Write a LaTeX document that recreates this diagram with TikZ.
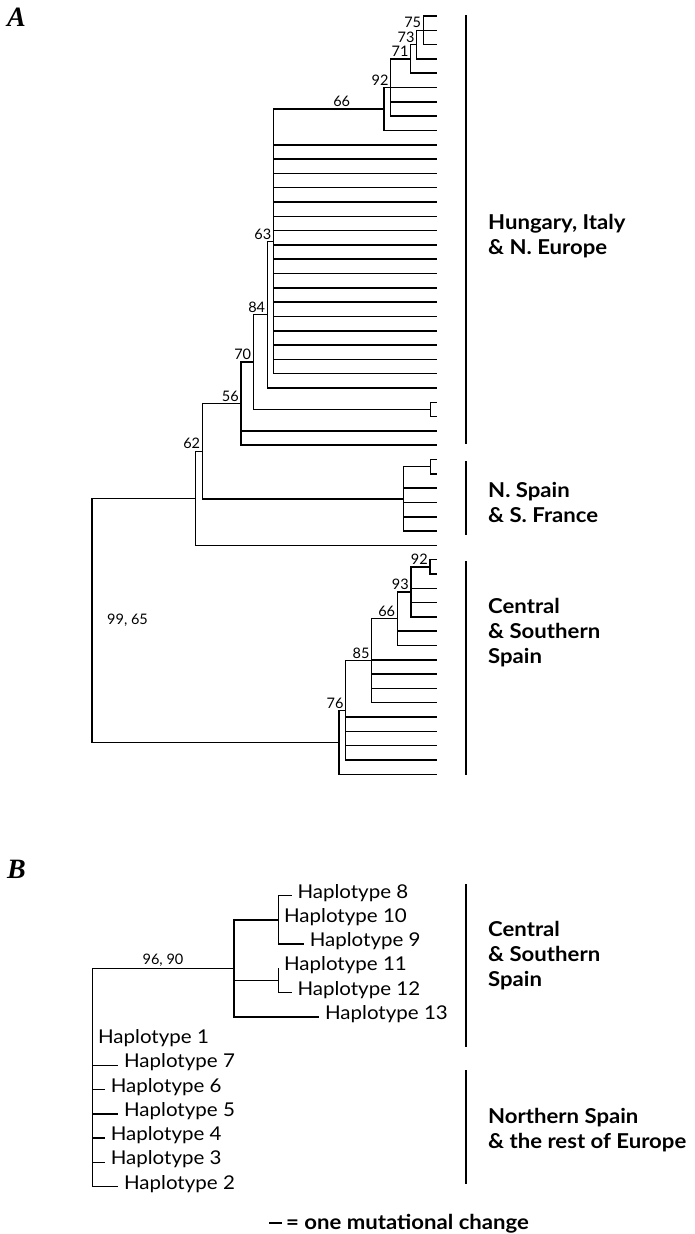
\documentclass[tikz,border=0pt]{standalone}
\usepackage{fontspec}
\setmainfont{Lato}
\newfontfamily\widefont{Lato}[FakeStretch=1.08]
\newfontfamily\panelfont{Liberation Serif}
\begin{document}
\def\ly#1{(16+14.307*(#1))}
\def\ry#1{(895.7+24.25*(#1))}
\begin{tikzpicture}[x=1pt,y=-1pt,
  br/.style={line width=1.5pt},
  regbar/.style={line width=2.4pt},
  num/.style={font=\fontsize{14.5}{16}\selectfont, inner xsep=2pt, inner ysep=2pt, anchor=south east},
  hap/.style={font=\widefont\fontsize{19}{22}\selectfont, anchor=mid west, inner xsep=5.6pt, inner ysep=0pt},
  reg/.style={font=\widefont\fontsize{20.5}{25}\selectfont\bfseries, anchor=base west, inner sep=0pt},
  panel/.style={font=\panelfont\bfseries\itshape\fontsize{28}{30}\selectfont, anchor=base west, inner sep=0pt}]
\fill[white] (0,0) rectangle (694,1234);
\useasboundingbox (0,0) rectangle (694,1234);

% ---------- Panel A ----------
\node[panel] (pA) at (7,26) {A};
\foreach \i in {0,...,53} \coordinate (L\i) at (437,{\ly{\i}});
\coordinate (n75) at (423.3,{\ly{1}});
\coordinate (n73) at (416.7,{\ly{2}});
\coordinate (n71) at (410.7,{\ly{3}});
\coordinate (n92) at (390.7,{\ly{5}});
\coordinate (n66) at (384,{\ly{6.5}});
\coordinate (n63) at (273.5,{\ly{15.75}});
\coordinate (n84) at (267.3,{\ly{20.875}});
\coordinate (p27) at (430.7,{\ly{27.5}});
\coordinate (n70) at (253.3,{\ly{24.1875}});
\coordinate (n56) at (241,{\ly{27.09375}});
\coordinate (p31) at (430.7,{\ly{31.5}});
\coordinate (nNS) at (403.3,{\ly{33.75}});
\coordinate (nX) at (202.3,{\ly{30.421875}});
\coordinate (nP) at (195.7,{\ly{33.7109}});
\coordinate (p38) at (430,{\ly{38.5}});
\coordinate (n93) at (411,{\ly{40.25}});
\coordinate (n66b) at (397.3,{\ly{42.125}});
\coordinate (n85) at (371.7,{\ly{45.0625}});
\coordinate (n76i) at (345.7,{\ly{48.53125}});
\coordinate (n76o) at (339,{\ly{50.765625}});
\coordinate (rootA) at (92,{\ly{42.2383}});

\foreach \c in {L0,L1,L2} \draw[br] (n75) |- (\c);
\foreach \c in {n75,L3} \draw[br] (n73) |- (\c);
\foreach \c in {n73,L4} \draw[br] (n71) |- (\c);
\foreach \c in {n71,L5,L6,L7} \draw[br] (n92) |- (\c);
\foreach \c in {n92,L8} \draw[br] (n66) |- (\c);
\draw[br] (n63) |- (n66);
\foreach \i in {9,...,25} \draw[br] (n63) |- (L\i);
\foreach \c in {n63,L26} \draw[br] (n84) |- (\c);
\foreach \c in {L27,L28} \draw[br] (p27) |- (\c);
\foreach \c in {n84,p27} \draw[br] (n70) |- (\c);
\foreach \c in {n70,L29,L30} \draw[br] (n56) |- (\c);
\foreach \c in {L31,L32} \draw[br] (p31) |- (\c);
\foreach \c in {p31,L33,L34,L35,L36} \draw[br] (nNS) |- (\c);
\foreach \c in {n56,nNS} \draw[br] (nX) |- (\c);
\foreach \c in {nX,L37} \draw[br] (nP) |- (\c);
\foreach \c in {L38,L39} \draw[br] (p38) |- (\c);
\foreach \c in {p38,L40,L41,L42} \draw[br] (n93) |- (\c);
\foreach \c in {n93,L43,L44} \draw[br] (n66b) |- (\c);
\foreach \c in {n66b,L45,L46,L47,L48} \draw[br] (n85) |- (\c);
\foreach \c in {n85,L49,L50,L51,L52} \draw[br] (n76i) |- (\c);
\foreach \c in {n76i,L53} \draw[br] (n76o) |- (\c);
\foreach \c in {nP,n76o} \draw[br] (rootA) |- (\c);

\node[num] (b75) at (n75) {75};
\node[num] (b73) at (n73) {73};
\node[num] (b71) at (n71) {71};
\node[num] (b92) at (n92) {92};
\node[num, anchor=south] (b66) at (341.7,{\ly{6.5}}) {66};
\node[num] (b63) at (n63) {63};
\node[num] (b84) at (n84) {84};
\node[num] (b70) at (n70) {70};
\node[num] (b56) at (n56) {56};
\node[num] (b62) at (nX) {62};
\node[num] (b92b) at (p38) {92};
\node[num] (b93) at (n93) {93};
\node[num] (b66b) at (n66b) {66};
\node[num] (b85) at (n85) {85};
\node[num] (b76) at (n76i) {76};
\node[num, anchor=west, inner xsep=1pt] (b99) at (106,{\ly{42.2383}}) {99, 65};

\coordinate (hb1) at (466,15);  \coordinate (hb2) at (466,444);
\coordinate (sb1) at (466,461); \coordinate (sb2) at (466,535);
\coordinate (cb1) at (466,561); \coordinate (cb2) at (466,775);
\draw[regbar] (hb1) -- (hb2);
\draw[regbar] (sb1) -- (sb2);
\draw[regbar] (cb1) -- (cb2);
\node[reg] (hl1) at (488,229.5) {Hungary, Italy};
\node[reg] (hl2) at (488,254.5) {\& N. Europe};
\node[reg] (sl1) at (488,497) {N. Spain};
\node[reg] (sl2) at (488,522) {\& S. France};
\node[reg] (cl1) at (488,613) {Central};
\node[reg] (cl2) at (488,638) {\& Southern};
\node[reg] (cl3) at (488,663) {Spain};

% ---------- Panel B ----------
\node[panel] (pB) at (7,878) {B};
\coordinate (rootB) at (92.3,{\ry{3}});
\coordinate (cB) at (234,{\ry{3}});
\coordinate (n8) at (278.3,{\ry{1}});
\coordinate (n11) at (278.3,{\ry{3.5}});
\coordinate (e8) at (291.7,{\ry{0}});
\coordinate (e10) at (278.3,{\ry{1}});
\coordinate (e9) at (304,{\ry{2}});
\coordinate (e11) at (278.3,{\ry{3}});
\coordinate (e12) at (291.7,{\ry{4}});
\coordinate (e13) at (319.3,{\ry{5}});
\coordinate (e1) at (92.3,{\ry{6}});
\coordinate (e7) at (118.3,{\ry{7}});
\coordinate (e6) at (105,{\ry{8}});
\coordinate (e5) at (118.3,{\ry{9}});
\coordinate (e4) at (105,{\ry{10}});
\coordinate (e3) at (105,{\ry{11}});
\coordinate (e2) at (118.3,{\ry{12}});

\draw[br] (rootB) -- (cB);
\foreach \c in {e1,e7,e6,e5,e4,e3,e2} \draw[br] (rootB) |- (\c);
\foreach \c in {n8,n11,e13} \draw[br] (cB) |- (\c);
\foreach \c in {e8,e9} \draw[br] (n8) |- (\c);
\foreach \c in {e11,e12} \draw[br] (n11) |- (\c);

\node[num, anchor=south] (b96) at (163,{\ry{3}}) {96, 90};

\node[hap] (h8) at (e8) {Haplotype 8};
\node[hap] (h10) at (e10) {Haplotype 10};
\node[hap] (h9) at (e9) {Haplotype 9};
\node[hap] (h11) at (e11) {Haplotype 11};
\node[hap] (h12) at (e12) {Haplotype 12};
\node[hap] (h13) at (e13) {Haplotype 13};
\node[hap] (h1) at (e1) {Haplotype 1};
\node[hap] (h7) at (e7) {Haplotype 7};
\node[hap] (h6) at (e6) {Haplotype 6};
\node[hap] (h5) at (e5) {Haplotype 5};
\node[hap] (h4) at (e4) {Haplotype 4};
\node[hap] (h3) at (e3) {Haplotype 3};
\node[hap] (h2) at (e2) {Haplotype 2};

\coordinate (gb1) at (466,884);  \coordinate (gb2) at (466,1047);
\coordinate (nb1) at (466,1070); \coordinate (nb2) at (466,1184);
\draw[regbar] (gb1) -- (gb2);
\draw[regbar] (nb1) -- (nb2);
\node[reg] (gl1) at (488,936) {Central};
\node[reg] (gl2) at (488,961) {\& Southern};
\node[reg] (gl3) at (488,986) {Spain};
\node[reg] (nl1) at (488,1123) {Northern Spain};
\node[reg] (nl2) at (488,1148) {\& the rest of Europe};

% legend
\coordinate (lg1) at (269,1222.5);
\coordinate (lg2) at (282,1222.5);
\draw[line width=2pt] (lg1) -- (lg2);
\node[reg] (lgt) at (286,1229.5) {= one mutational change};
\end{tikzpicture}
\end{document}
